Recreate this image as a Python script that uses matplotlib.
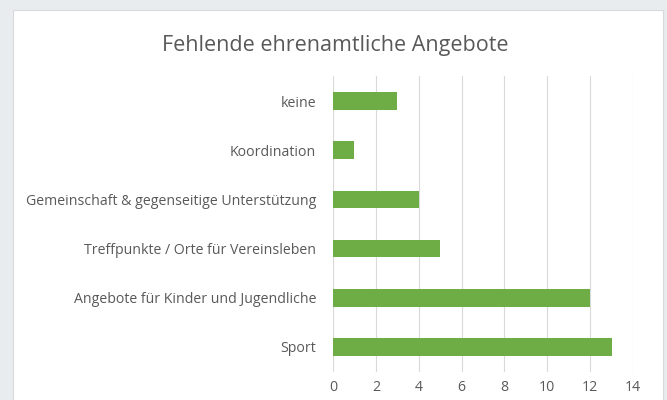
import matplotlib.pyplot as plt
from matplotlib.patches import Rectangle

plt.rcParams['font.family'] = ['Open Sans', 'DejaVu Sans']

# Data (top to bottom)
categories = ['keine', 'Koordination', 'Gemeinschaft & gegenseitige Unterstützung',
              'Treffpunkte / Orte für Vereinsleben', 'Angebote für Kinder und Jugendliche',
              'Sport']
values = [3, 1, 4, 5, 12, 13]
x_ticks = [0, 2, 4, 6, 8, 10, 12, 14]

fig = plt.figure(figsize=(6.67, 4.0), dpi=100)
fig.patch.set_facecolor('#E8ECEF')

# white chart card
card = Rectangle((13 / 667, -0.05), 650 / 667, 1 - 10 / 400 + 0.05,
                 transform=fig.transFigure, facecolor='white',
                 edgecolor='#D6DADD', linewidth=0.8, zorder=-1)
fig.patches.append(card)

ax = fig.add_axes([333 / 667, 1 - 371.5 / 400, 300 / 667, 295 / 400])
ax.set_facecolor('none')
ax.set_zorder(2)

ypos = list(range(len(categories)))
ax.barh(ypos, values, height=0.36, color='#6EAD45', zorder=3)

ax.set_ylim(len(categories) - 0.5, -0.5)
ax.set_xlim(0, 14)
ax.set_xticks(x_ticks)
ax.set_yticks(ypos)
ax.set_yticklabels(categories)

ax.grid(axis='x', color='#D9D9D9', linewidth=0.8, zorder=0)
for s in ax.spines.values():
    s.set_visible(False)
ax.tick_params(length=0, colors='#595959', labelsize=10.2)
ax.tick_params(axis='y', pad=12)
ax.tick_params(axis='x', pad=6)

fig.text(0.503, 1 - 45 / 400, 'Fehlende ehrenamtliche Angebote',
         ha='center', va='center', fontsize=15.5, color='#595959', zorder=3)

fig.savefig('out.png', dpi=100, facecolor=fig.get_facecolor())
